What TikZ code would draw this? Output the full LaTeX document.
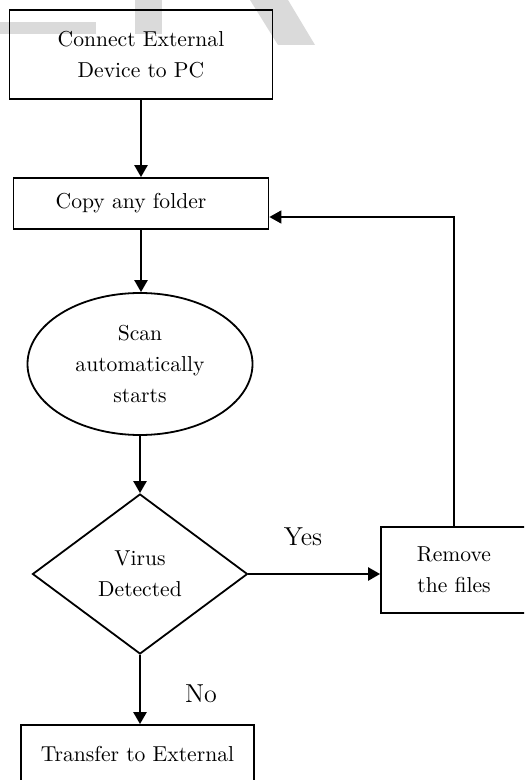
\documentclass[tikz,border=0pt]{standalone}
\usepackage{tikz}
\usetikzlibrary{arrows.meta,positioning,shapes.geometric}
\definecolor{wmgray}{RGB}{218,218,218}

\begin{document}
\begin{tikzpicture}[x=0.5pt,y=-0.5pt,
  font=\fontsize{10.8}{15.5}\selectfont,
  procbox/.style={draw,line width=0.9pt,rectangle,align=center,inner sep=0pt},
  scanoval/.style={draw,line width=0.9pt,ellipse,align=center,inner sep=0pt,minimum width=112.5pt,minimum height=71pt},
  decide/.style={draw,line width=0.9pt,diamond,aspect=1.35,align=center,inner sep=0pt,minimum width=107.5pt,minimum height=80pt},
  flow/.style={-{Triangle[length=6pt,width=6.5pt]},line width=1.2pt},
  answer/.style={font=\fontsize{13}{15}\selectfont}]
  \useasboundingbox (0,0) rectangle (524,780);
  \clip (0,0) rectangle (524,780);
  % watermark
  \fill[wmgray] (0,22) rectangle (96,34);
  \fill[wmgray] (135,0) rectangle (162,34);
  \fill[wmgray] (250,0) -- (288,0) -- (315,45) -- (278,45) -- cycle;

  \node[procbox,minimum width=131.5pt,minimum height=44.5pt] (connect) at (141,54.5) {Connect External\\Device to PC};
  \node[procbox,minimum width=127.5pt,minimum height=25.5pt] (copy) at (141,203.5) {Copy any folder\hspace{10pt}};
  \node[scanoval] (scan) at (140,364) {Scan\\automatically\\starts};
  \node[decide] (virus) at (140,574) {Virus\\Detected};
  \node[procbox,minimum width=73pt,minimum height=43pt] (remove) at (454,570) {Remove\\the files};
  \node[procbox,minimum width=116.5pt,minimum height=29pt] (transfer) at (137.5,754) {Transfer to External};

  \node[answer] (yes) at (303,537) {Yes};
  \node[answer] (no) at (201,694) {No};

  \draw[flow] (connect) -- (copy);
  \draw[flow] (copy.south) -- (copy.south |- scan.north);
  \draw[flow] (scan) -- (virus);
  \draw[flow] (virus.east) -- (virus.east -| remove.west);
  \draw[flow] (virus.south) -- (virus.south |- transfer.north);
  \draw[flow,line width=0.8pt] (remove.north) |- ([yshift=-6.75pt]copy.east);
\end{tikzpicture}
\end{document}
